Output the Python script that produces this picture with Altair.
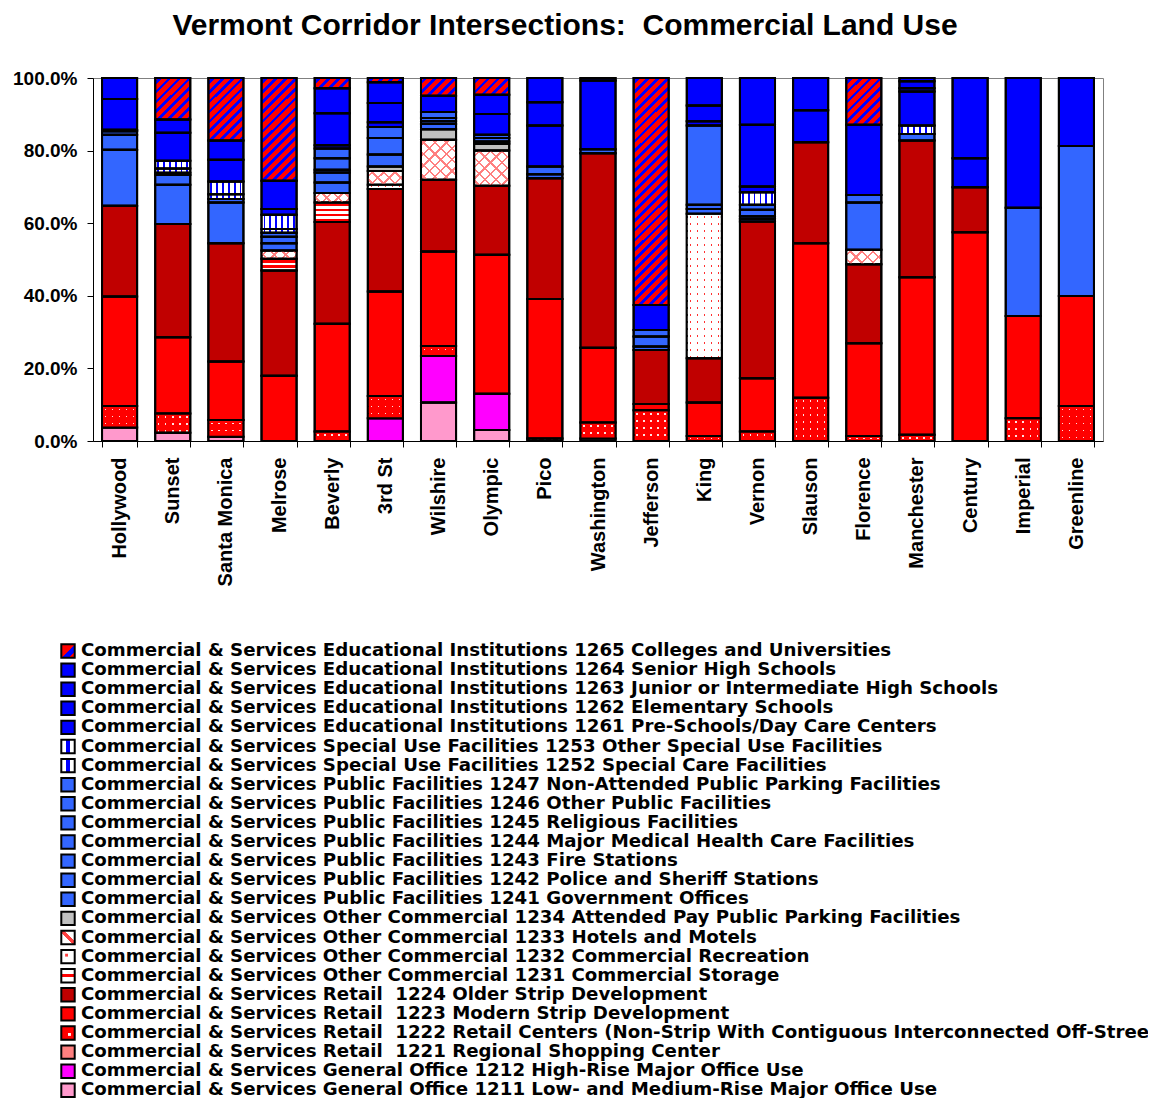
import math
import altair as alt
import pandas as pd

intersections = ["Hollywood", "Sunset", "Santa Monica", "Melrose", "Beverly", "3rd St",
                 "Wilshire", "Olympic", "Pico", "Washington", "Jefferson", "King",
                 "Vernon", "Slauson", "Florence", "Manchester", "Century", "Imperial",
                 "Greenline"]

# stack order, bottom -> top
codes = ["1211", "1212", "1221", "1222", "1223", "1224", "1231", "1232", "1233", "1234",
         "1241", "1242", "1243", "1244", "1245", "1246", "1247", "1252", "1253",
         "1261", "1262", "1263", "1264", "1265"]

NB = "\u00a0"
labels = {
    "1265": "Commercial & Services Educational Institutions 1265 Colleges and Universities",
    "1264": "Commercial & Services Educational Institutions 1264 Senior High Schools",
    "1263": "Commercial & Services Educational Institutions 1263 Junior or Intermediate High Schools",
    "1262": "Commercial & Services Educational Institutions 1262 Elementary Schools",
    "1261": "Commercial & Services Educational Institutions 1261 Pre-Schools/Day Care Centers",
    "1253": "Commercial & Services Special Use Facilities 1253 Other Special Use Facilities",
    "1252": "Commercial & Services Special Use Facilities 1252 Special Care Facilities",
    "1247": "Commercial & Services Public Facilities 1247 Non-Attended Public Parking Facilities",
    "1246": "Commercial & Services Public Facilities 1246 Other Public Facilities",
    "1245": "Commercial & Services Public Facilities 1245 Religious Facilities",
    "1244": "Commercial & Services Public Facilities 1244 Major Medical Health Care Facilities",
    "1243": "Commercial & Services Public Facilities 1243 Fire Stations",
    "1242": "Commercial & Services Public Facilities 1242 Police and Sheriff Stations",
    "1241": "Commercial & Services Public Facilities 1241 Government Offices",
    "1234": "Commercial & Services Other Commercial 1234 Attended Pay Public Parking Facilities",
    "1233": "Commercial & Services Other Commercial 1233 Hotels and Motels",
    "1232": "Commercial & Services Other Commercial 1232 Commercial Recreation",
    "1231": "Commercial & Services Other Commercial 1231 Commercial Storage",
    "1224": "Commercial & Services Retail" + NB + " 1224 Older Strip Development",
    "1223": "Commercial & Services Retail" + NB + " 1223 Modern Strip Development",
    "1222": "Commercial & Services Retail" + NB + " 1222 Retail Centers (Non-Strip With Contiguous Interconnected Off-Stree",
    "1221": "Commercial & Services Retail" + NB + " 1221 Regional Shopping Center",
    "1212": "Commercial & Services General Office 1212 High-Rise Major Office Use",
    "1211": "Commercial & Services General Office 1211 Low- and Medium-Rise Major Office Use",
}

# percentages per intersection (same order as `intersections`)
v1211 = [3.7, 2.3, 1.2, 0, 0, 0, 10.6, 3.0, 0, 0.7, 0, 0, 0, 0, 0, 0, 0, 0, 0]
v1212 = [0, 0, 0, 0, 0, 6.25, 12.8, 10.0, 0, 0, 0, 0, 0, 0, 0, 0, 0, 0, 0]
v1221 = [0] * 19
v1222 = [5.95, 5.3, 4.6, 0, 2.6, 6.15, 2.8, 0, 0.7, 4.4, 8.5, 1.4, 2.6, 11.9, 1.4, 1.7, 0, 6.25, 9.65]
v1223 = [30.15, 21.0, 16.1, 18.0, 29.7, 28.8, 26.0, 38.3, 38.4, 20.6, 1.7, 9.2, 14.7, 42.6, 25.5, 43.4, 57.5, 28.2, 30.3]
v1224 = [25.0, 31.2, 32.6, 29.0, 28.0, 28.2, 19.8, 19.0, 33.3, 53.6, 14.9, 12.2, 43.2, 27.8, 21.8, 37.7, 12.4, 0, 0]
v1231 = [0, 0, 0, 3.2, 5.4, 0, 0, 0, 0, 0, 0, 0, 0, 0, 0, 0, 0, 0, 0]
v1232 = [0, 0, 0, 0, 0, 1.2, 0, 0, 0, 0, 0, 39.8, 0, 0, 0, 0, 0, 0, 0]
v1233 = [0, 0, 0, 2.3, 2.6, 3.8, 11.0, 9.7, 0, 0, 0, 0, 0, 0, 4.0, 0, 0, 0, 0]
v1234 = [0, 0, 0, 0, 0, 1.2, 2.9, 1.9, 0, 0, 0, 0, 0, 0, 0, 0, 0, 0, 0]
v1241 = [15.4, 10.8, 11.2, 2.0, 2.9, 3.3, 1.4, 0.6, 1.1, 0, 0.9, 1.3, 0.7, 0, 13.0, 0, 0, 29.8, 41.3]
v1242 = [0, 0, 0, 0, 2.8, 0, 0.8, 0, 0, 0, 0, 0, 0.7, 0, 0, 0, 0, 0, 0]
v1243 = [0, 0, 0, 0, 0.7, 0, 0, 0, 0, 0, 0, 0, 0, 0, 0, 0, 0, 0, 0]
v1244 = [4.2, 2.7, 0, 1.8, 3.2, 4.6, 0.9, 1.0, 2.1, 1.1, 2.8, 1.2, 1.8, 0, 2.1, 1.8, 0, 0, 0]
v1245 = [0, 0, 0, 0, 2.7, 3.0, 0, 0, 0, 0, 0, 0, 0, 0, 0, 0, 0, 0, 0]
v1246 = [0, 0, 0, 0, 0, 0, 1.6, 0, 0, 0, 0, 0, 0, 0, 0, 0, 0, 0, 0]
v1247 = [0.9, 0.6, 1.0, 1.1, 0, 0, 0, 0.9, 0, 0, 1.8, 21.8, 1.4, 0, 0, 0, 0, 0, 0]
v1252 = [0, 1.2, 1.3, 1.0, 0, 0, 0, 0, 0, 0, 0, 0, 0, 0, 0, 0, 0, 0, 0]
v1253 = [0, 2.1, 3.5, 3.9, 0, 0, 0, 0, 0, 0, 0, 0, 3.4, 0, 0, 2.3, 0, 0, 0]
v1261 = [0.45, 0, 0, 0, 0.9, 1.3, 0, 0, 0, 0, 0, 1.2, 1.6, 0, 0, 9.4, 0, 0, 0]
v1262 = [8.45, 7.7, 6.0, 1.6, 8.8, 5.3, 4.5, 5.7, 11.3, 18.9, 6.9, 4.3, 17.0, 8.8, 19.3, 0.9, 8.0, 35.75, 18.75]
v1263 = [0, 0, 0, 0, 0, 0, 0, 0, 6.4, 0, 0, 0, 0, 0, 0, 1.9, 0, 0, 0]
v1264 = [5.8, 3.7, 5.3, 7.8, 6.9, 5.7, 0, 5.3, 6.7, 0.7, 0, 7.6, 12.9, 8.9, 0, 0.9, 22.1, 0, 0]
v1265 = [0, 11.4, 17.2, 28.3, 2.8, 1.2, 4.9, 4.6, 0, 0, 62.5, 0, 0, 0, 12.9, 0, 0, 0, 0]

series = {
    "1211": v1211, "1212": v1212, "1221": v1221, "1222": v1222, "1223": v1223,
    "1224": v1224, "1231": v1231, "1232": v1232, "1233": v1233, "1234": v1234,
    "1241": v1241, "1242": v1242, "1243": v1243, "1244": v1244, "1245": v1245,
    "1246": v1246, "1247": v1247, "1252": v1252, "1253": v1253, "1261": v1261,
    "1262": v1262, "1263": v1263, "1264": v1264, "1265": v1265,
}

base_colors = {
    "1211": "#FF99CC", "1212": "#FF00FF", "1221": "#FF8080", "1222": "#FF0000",
    "1223": "#FF0000", "1224": "#C00000", "1231": "#FFFFFF", "1232": "#FFFFFF",
    "1233": "#FFFFFF", "1234": "#C0C0C0",
    "1241": "#3366FF", "1242": "#3366FF", "1243": "#3366FF", "1244": "#3366FF",
    "1245": "#3366FF", "1246": "#3366FF", "1247": "#3366FF",
    "1252": "#FFFFFF", "1253": "#FFFFFF",
    "1261": "#0000FF", "1262": "#0000FF", "1263": "#0000FF", "1264": "#0000FF",
    "1265": "#FF0000",
}

rows = []
for idx, c in enumerate(codes):
    for i, name in enumerate(intersections):
        v = series[c][i]
        if v > 0:
            rows.append({"inter": name, "code": c, "label": labels[c], "value": v, "idx": idx})
df = pd.DataFrame(rows)

legend_codes = codes[::-1]
legend_labels = [labels[c] for c in legend_codes]
legend_colors = [base_colors[c] for c in legend_codes]
leg_df = pd.DataFrame({"code": legend_codes, "label": legend_labels})

# ---- hatch-pattern approximations with linear gradients (styling only) ----
BAR_W = 35.0
PLOT_H = 363.0
ROW_H = 19.1
CLEAR = "rgba(255,255,255,0)"


def periodic_stops(base, line, n, frac):
    stops = []
    per = 1.0 / n
    i = 0
    while i * per < 1.0 - 1e-9:
        s = i * per
        p = min(1.0, (i + 0.5 - frac / 2) * per)
        q = min(1.0, (i + 0.5 + frac / 2) * per)
        e = min(1.0, (i + 1) * per)
        for off, col in [(s, base), (p, base), (p, line), (q, line), (q, base), (e, base)]:
            stops.append({"offset": round(off, 5), "color": col})
        i += 1
    return stops


def band_stops(base, line, a, b):
    return [{"offset": 0, "color": base}, {"offset": a, "color": base},
            {"offset": a, "color": line}, {"offset": b, "color": line},
            {"offset": b, "color": base}, {"offset": 1, "color": base}]


def vstripes(base, line, n, frac):
    return {"gradient": "linear", "x1": 0, "y1": 0, "x2": 1, "y2": 0,
            "stops": periodic_stops(base, line, n, frac)}


def hstripes(base, line, h_px, period, frac):
    n = max(1.0, h_px / period)
    return {"gradient": "linear", "x1": 0, "y1": 0, "x2": 0, "y2": 1,
            "stops": periodic_stops(base, line, n, frac)}


def diag(base, line, w_px, h_px, period, frac, back=False):
    h_px = max(h_px, 1.0)
    r = w_px / h_px
    k = (r + 1) / (r * r + 1)
    n = max(1.0, (w_px + h_px) / math.sqrt(2) / period)
    if back:
        g = {"x1": 0, "y1": 1, "x2": round(k * r, 5), "y2": round(1 - k, 5)}
    else:
        g = {"x1": 0, "y1": 0, "x2": round(k * r, 5), "y2": round(k, 5)}
    g.update({"gradient": "linear", "stops": periodic_stops(base, line, n, frac)})
    return g


conds = []      # base layer
over = []       # overlay layer (second half of dot / lattice patterns)
for i, name in enumerate(intersections):
    for c in ["1265", "1233", "1231", "1222", "1232"]:
        v = series[c][i]
        if v <= 0:
            continue
        h = v / 100.0 * PLOT_H
        t = f"datum.code === '{c}' && datum.inter === '{name}'"
        if c == "1265":
            conds.append({"test": t, "value": diag("#FF0000", "#0000FF", BAR_W, h, 7.0, 0.38)})
        elif c == "1233":
            conds.append({"test": t, "value": diag("#FFFFFF", "#FF8080", BAR_W, h, 8.0, 0.22)})
            over.append({"test": t, "value": diag(CLEAR, "#FF8080", BAR_W, h, 8.0, 0.22, back=True)})
        elif c == "1231":
            conds.append({"test": t, "value": hstripes("#FFFFFF", "#FF0000", h, 5.0, 0.5)})
        elif c == "1222":
            over.append({"test": t, "value": hstripes("#FF0000", CLEAR, h, 7.0, 0.25)})
        elif c == "1232":
            over.append({"test": t, "value": hstripes("#FFFFFF", CLEAR, h, 7.0, 0.25)})

conds.append({"test": "datum.code === '1252' || datum.code === '1253'",
              "value": vstripes("#FFFFFF", "#0000FF", 6, 0.3)})
conds.append({"test": "datum.code === '1222'",
              "value": vstripes("#FF0000", "#FFE0E0", 5, 0.22)})
conds.append({"test": "datum.code === '1232'",
              "value": vstripes("#FFFFFF", "#FF3030", 5, 0.22)})

# legend-symbol versions of the patterns
sym_fill = {
    "1265": {"gradient": "linear", "x1": 0, "y1": 0, "x2": 1, "y2": 1,
             "stops": band_stops("#FF0000", "#0000FF", 0.52, 0.78)},
    "1253": {"gradient": "linear", "x1": 0, "y1": 0, "x2": 1, "y2": 0,
             "stops": band_stops("#FFFFFF", "#0000FF", 0.35, 0.62)},
    "1252": {"gradient": "linear", "x1": 0, "y1": 0, "x2": 1, "y2": 0,
             "stops": band_stops("#FFFFFF", "#0000FF", 0.35, 0.62)},
    "1233": {"gradient": "linear", "x1": 0, "y1": 1, "x2": 1, "y2": 0,
             "stops": band_stops("#FFFFFF", "#FF4040", 0.42, 0.6)},
    "1232": {"gradient": "radial", "x1": 0.4, "y1": 0.4, "r1": 0, "x2": 0.4, "y2": 0.4, "r2": 0.6,
             "stops": [{"offset": 0, "color": "#FF4040"}, {"offset": 0.2, "color": "#FF4040"},
                       {"offset": 0.2, "color": "#FFFFFF"}, {"offset": 1, "color": "#FFFFFF"}]},
    "1231": {"gradient": "linear", "x1": 0, "y1": 0, "x2": 0, "y2": 1,
             "stops": band_stops("#FFFFFF", "#FF0000", 0.36, 0.62)},
    "1222": {"gradient": "radial", "x1": 0.6, "y1": 0.6, "r1": 0, "x2": 0.6, "y2": 0.6, "r2": 0.6,
             "stops": [{"offset": 0, "color": "#FFFFFF"}, {"offset": 0.2, "color": "#FFFFFF"},
                       {"offset": 0.2, "color": "#FF0000"}, {"offset": 1, "color": "#FF0000"}]},
}
sym_conds = [{"test": f"datum.code === '{c}'", "value": g} for c, g in sym_fill.items()]

LEG_FONT = "DejaVu Sans"
AX_FONT = "Liberation Sans"

fill_scale = alt.Scale(domain=legend_labels, range=legend_colors)

base = alt.Chart(df).transform_stack(
    stack="value", groupby=["inter"], as_=["y0", "y1"], offset="normalize",
    sort=[alt.SortField("idx", order="ascending")],
).encode(
    x=alt.X("inter:N", sort=intersections, title=None,
            scale=alt.Scale(paddingInner=0.34, paddingOuter=0.17),
            axis=alt.Axis(labelAngle=-90, tickBand="extent", tickSize=6, labelPadding=10,
                          labelFont=AX_FONT, labelFontWeight="bold", labelFontSize=20,
                          labelColor="black", domainColor="black", tickColor="black",
                          domainWidth=1, tickWidth=1)),
    y=alt.Y("y0:Q", title=None,
            scale=alt.Scale(domain=[0, 1], nice=False),
            axis=alt.Axis(labelExpr="format(datum.value, '.1%')",
                          values=[0, 0.2, 0.4, 0.6, 0.8, 1.0], grid=False,
                          tickSize=6, labelPadding=10, labelFont=AX_FONT,
                          labelFontWeight="bold", labelFontSize=19, labelColor="black",
                          domainColor="black", tickColor="black", domainWidth=1)),
    y2="y1:Q",
    tooltip=["inter:N", "label:N", "value:Q"],
)

bars = base.mark_bar(stroke="black", strokeWidth=2).encode(
    fill=alt.Fill("label:N", scale=fill_scale, legend=None, condition=conds)
)
bars_over = base.mark_bar(stroke="black", strokeWidth=2).encode(
    fill=alt.FillValue(CLEAR, condition=over)
)
bar_layers = alt.layer(bars, bars_over)

# legend rows: a point scale places the 24 entries below the plot, one row each
LEG_TOP = 573.0
leg_y = alt.Y("label:N", sort=legend_labels, axis=None, title=None,
              scale=alt.Scale(type="point", domain=legend_labels, padding=0,
                              range=[LEG_TOP, LEG_TOP + ROW_H * (len(legend_labels) - 1)]))

leg_sym = alt.Chart(leg_df).mark_square(
    size=180, stroke="black", strokeWidth=2, opacity=1, filled=True
).encode(
    x=alt.value(-25),
    y=leg_y,
    fill=alt.Fill("label:N", scale=fill_scale, legend=None, condition=sym_conds),
)
leg_txt = alt.Chart(leg_df).mark_text(
    align="left", baseline="middle", font=LEG_FONT, fontWeight="bold", fontSize=18.2,
    color="black",
).encode(
    x=alt.value(-12),
    y=leg_y,
    text="label:N",
)

chart = alt.layer(bar_layers, leg_sym, leg_txt).resolve_scale(
    y="independent"
).properties(
    width=1010, height=363,
    title=alt.TitleParams("Vermont Corridor Intersections:" + NB + " Commercial Land Use",
                          font=AX_FONT, fontSize=30, fontWeight="bold", color="black",
                          anchor="middle", dx=-33, offset=28),
    autosize=alt.AutoSizeParams(type="none"),
    padding={"left": 85, "top": 70, "right": 45, "bottom": 657},
).configure_view(stroke="#808080", strokeWidth=1)

chart.save("out.html", embed_options={"renderer": "svg", "actions": False})
